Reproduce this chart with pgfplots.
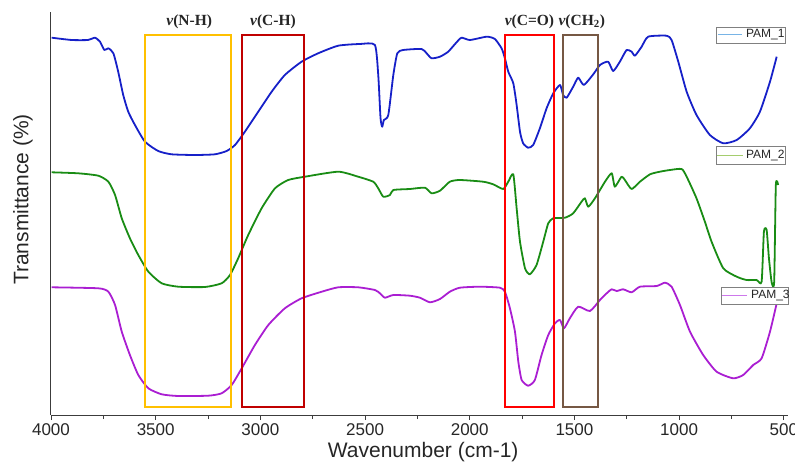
\documentclass[border=0pt]{standalone}
\usepackage{pgfplots}
\pgfplotsset{compat=1.18}
\usepackage{fontspec}
\setmainfont{Liberation Sans}
\newfontfamily\tnr{Liberation Serif}

\definecolor{pamA}{RGB}{22,32,200}
\definecolor{pamB}{RGB}{25,140,20}
\definecolor{pamC}{RGB}{170,30,210}
\definecolor{legA}{RGB}{120,180,230}
\definecolor{legB}{RGB}{165,205,110}
\definecolor{legC}{RGB}{205,120,235}
\definecolor{boxNH}{RGB}{255,192,0}
\definecolor{boxCH}{RGB}{192,0,0}
\definecolor{boxCO}{RGB}{255,0,0}
\definecolor{boxCHtwo}{RGB}{118,88,68}
\definecolor{axgray}{RGB}{60,60,60}

\begin{document}
\begin{tikzpicture}[x=1pt,y=1pt]
\begin{axis}[
  at={(0,0)}, anchor=south west,
  scale only axis,
  width=737pt, height=403pt,
  x dir=reverse,
  xmin=480, xmax=4000,
  ymin=0, ymax=403,
  axis x line*=bottom,
  axis y line*=left,
  axis line style={axgray, line width=1pt},
  xtick={500,1000,...,4000},
  minor x tick num=1,
  ytick=\empty,
  tick align=outside,
  major tick length=5pt,
  minor tick length=4pt,
  tick style={axgray, line width=0.9pt},
  /pgf/number format/assume math mode=true,
  /pgf/number format/1000 sep={},
  ticklabel style={font=\fontsize{17}{20}\selectfont, text=black!85},
  xlabel={Wavenumber (cm-1)},
  ylabel={Transmittance (\%)},
  label style={font=\fontsize{21}{24}\selectfont, text=black!85},
  xlabel style={at={(axis description cs:0.505,-0.092)}, anchor=center},
  ylabel style={at={(axis description cs:-0.038,0.535)}, anchor=center},
  clip=false,
  every axis plot/.append style={line width=1.8pt, line join=round, smooth, tension=0.35},
]

% PAM_1
\addplot[pamA] coordinates {
(3997,377.3) (3901,375) (3823,375) (3790,377.3) (3766,373.3) (3745,365) (3726,366.7)
(3702,361.7) (3679,343.3) (3655,320) (3631,303.3) (3599,290) (3551,273.3) (3488,264)
(3424,260.7) (3312,260) (3217,260.7) (3161,264) (3121,270) (3074,283.3) (3010,303.3)
(2946,323.3) (2883,340) (2803,353.3) (2724,361.7) (2628,369.3) (2524,371) (2453,370)
(2437,340) (2426,296.7) (2418,288.3) (2410,295) (2389,300) (2365,340) (2346,361.7)
(2318,365) (2230,366) (2206,361.7) (2182,356.7) (2142,358.3) (2103,363.3) (2063,372.7)
(2039,377.3) (1999,375) (1919,378.3) (1880,376) (1848,366.7) (1832,356.7) (1816,343.3)
(1792,331.7) (1776,310) (1760,283.3) (1745,271.7) (1721,267.3) (1697,270) (1665,286.7)
(1633,306.7) (1601,321.7) (1569,330) (1554,320) (1537,317.3) (1506,328.3) (1482,337.3)
(1455,330) (1410,340.7) (1378,350) (1339,353.3) (1315,344) (1283,353.3) (1251,365)
(1227,363.3) (1211,359.3) (1179,368.3) (1148,378.3) (1060,379.3) (1036,375) (1004,353.3)
(964,323.3) (917,300) (853,280) (789,271.7) (725,275) (662,286.7) (614,303.3)
(566,333.3) (534,358.3)
};

% PAM_2
\addplot[pamB] coordinates {
(3997,242.7) (3870,241.7) (3774,239.3) (3726,233.3) (3694,220) (3662,196.7) (3623,176.7)
(3583,160) (3535,143.3) (3471,131.7) (3392,128.3) (3265,128) (3185,131.7) (3145,140)
(3106,156.7) (3058,180) (2994,206.7) (2930,226.7) (2867,235) (2787,238.3) (2628,243.3)
(2533,238.3) (2461,233.3) (2437,226.7) (2413,218.3) (2381,220) (2365,225) (2286,226)
(2214,227.3) (2182,221.7) (2142,224.3) (2095,233.3) (2047,235) (1936,233.3) (1888,230.7)
(1840,226) (1816,233.3) (1792,240.7) (1776,206.7) (1760,173.3) (1736,146.7) (1713,140.7)
(1681,150) (1649,173.3) (1625,191.7) (1601,196.7) (1545,197.3) (1506,201.7) (1466,213.3)
(1450,216.7) (1434,208.3) (1402,216.7) (1354,233.3) (1322,241.7) (1307,228.3) (1275,238.3)
(1259,235) (1227,226) (1187,233.3) (1139,240.7) (1092,243.3) (1044,245) (988,246)
(964,238.3) (917,216.7) (877,193.3) (845,173.3) (789,146.7) (725,138.3) (678,135)
(630,135) (606,133.3) (595,183.3) (582,185) (571,156.7) (558,132.7) (546,133.3)
(538,230) (527,230)
};

% PAM_3
\addplot[pamC] coordinates {
(3997,127.7) (3774,126.7) (3726,123.3) (3694,110) (3662,83.3) (3623,60) (3583,40)
(3535,26.7) (3471,20.7) (3392,19) (3249,19.3) (3185,21.7) (3137,30) (3089,46.7)
(3026,70) (2962,90) (2883,106.7) (2803,116.7) (2707,123.3) (2628,127.7) (2533,127.7)
(2453,125) (2429,121.7) (2405,117.3) (2365,120) (2286,119.3) (2238,117.3) (2190,112.7)
(2142,116) (2095,123.3) (2047,127.3) (1951,128.3) (1856,127.3) (1832,123.3) (1808,106.7)
(1784,83.3) (1768,53.3) (1752,35) (1721,29.3) (1689,35) (1657,60) (1625,80)
(1593,91.7) (1569,95) (1550,86.7) (1522,96.7) (1482,108.3) (1426,104) (1378,115)
(1346,121.7) (1322,125.7) (1298,124) (1267,125.7) (1227,122.7) (1187,128.3) (1107,129)
(1068,132.3) (1036,128.3) (996,110) (948,83.3) (885,60) (821,43.3) (742,36.7)
(694,40) (646,50) (606,56.7) (566,83.3) (534,111.7)
};

% band boxes
\draw[boxNH, line width=1.3pt] (axis cs:3551,8) rectangle (axis cs:3140,380);
\draw[boxCH, line width=1.3pt] (axis cs:3088,8) rectangle (axis cs:2792,380);
\draw[boxCO, line width=1.3pt] (axis cs:1832,8) rectangle (axis cs:1598,380);
\draw[boxCHtwo, line width=1.3pt] (axis cs:1555,8) rectangle (axis cs:1388,380);

% band labels
\begin{scope}[every node/.style={font=\tnr\fontsize{15.5}{17}\selectfont\bfseries, text=black!85, inner sep=0pt}]
\node at (axis cs:3340,393) {\itshape ν\upshape(N-H)};
\node at (axis cs:2940,393) {\itshape ν\upshape(C-H)};
\node at (axis cs:1715,393) {\itshape ν\upshape(C=O)};
\node at (axis cs:1465,393) {\itshape ν\upshape(CH\textsubscript{2})};
\end{scope}

% legend entries
\begin{scope}[every node/.style={font=\fontsize{12}{14}\selectfont, text=black!85, inner sep=0pt, anchor=west}]
\draw[gray, fill=white, line width=0.9pt] (axis cs:824,388) rectangle (axis cs:490,372);
\draw[legA, line width=1pt] (axis cs:815,380) -- (axis cs:700,380);
\node at (axis cs:681,380) {PAM\_1};
\draw[gray, fill=white, line width=0.9pt] (axis cs:824,268.3) rectangle (axis cs:490,251);
\draw[legB, line width=1pt] (axis cs:820,259.7) -- (axis cs:695,259.7);
\node at (axis cs:681,259.7) {PAM\_2};
\draw[gray, fill=white, line width=0.9pt] (axis cs:800,128) rectangle (axis cs:480,111);
\draw[legC, line width=1pt] (axis cs:796,119.5) -- (axis cs:676,119.5);
\node at (axis cs:657,119.5) {PAM\_3};
\end{scope}
\end{axis}
\pgfresetboundingbox
\path[use as bounding box] (-51pt,-49pt) rectangle (744pt,415pt);
\end{tikzpicture}
\end{document}
